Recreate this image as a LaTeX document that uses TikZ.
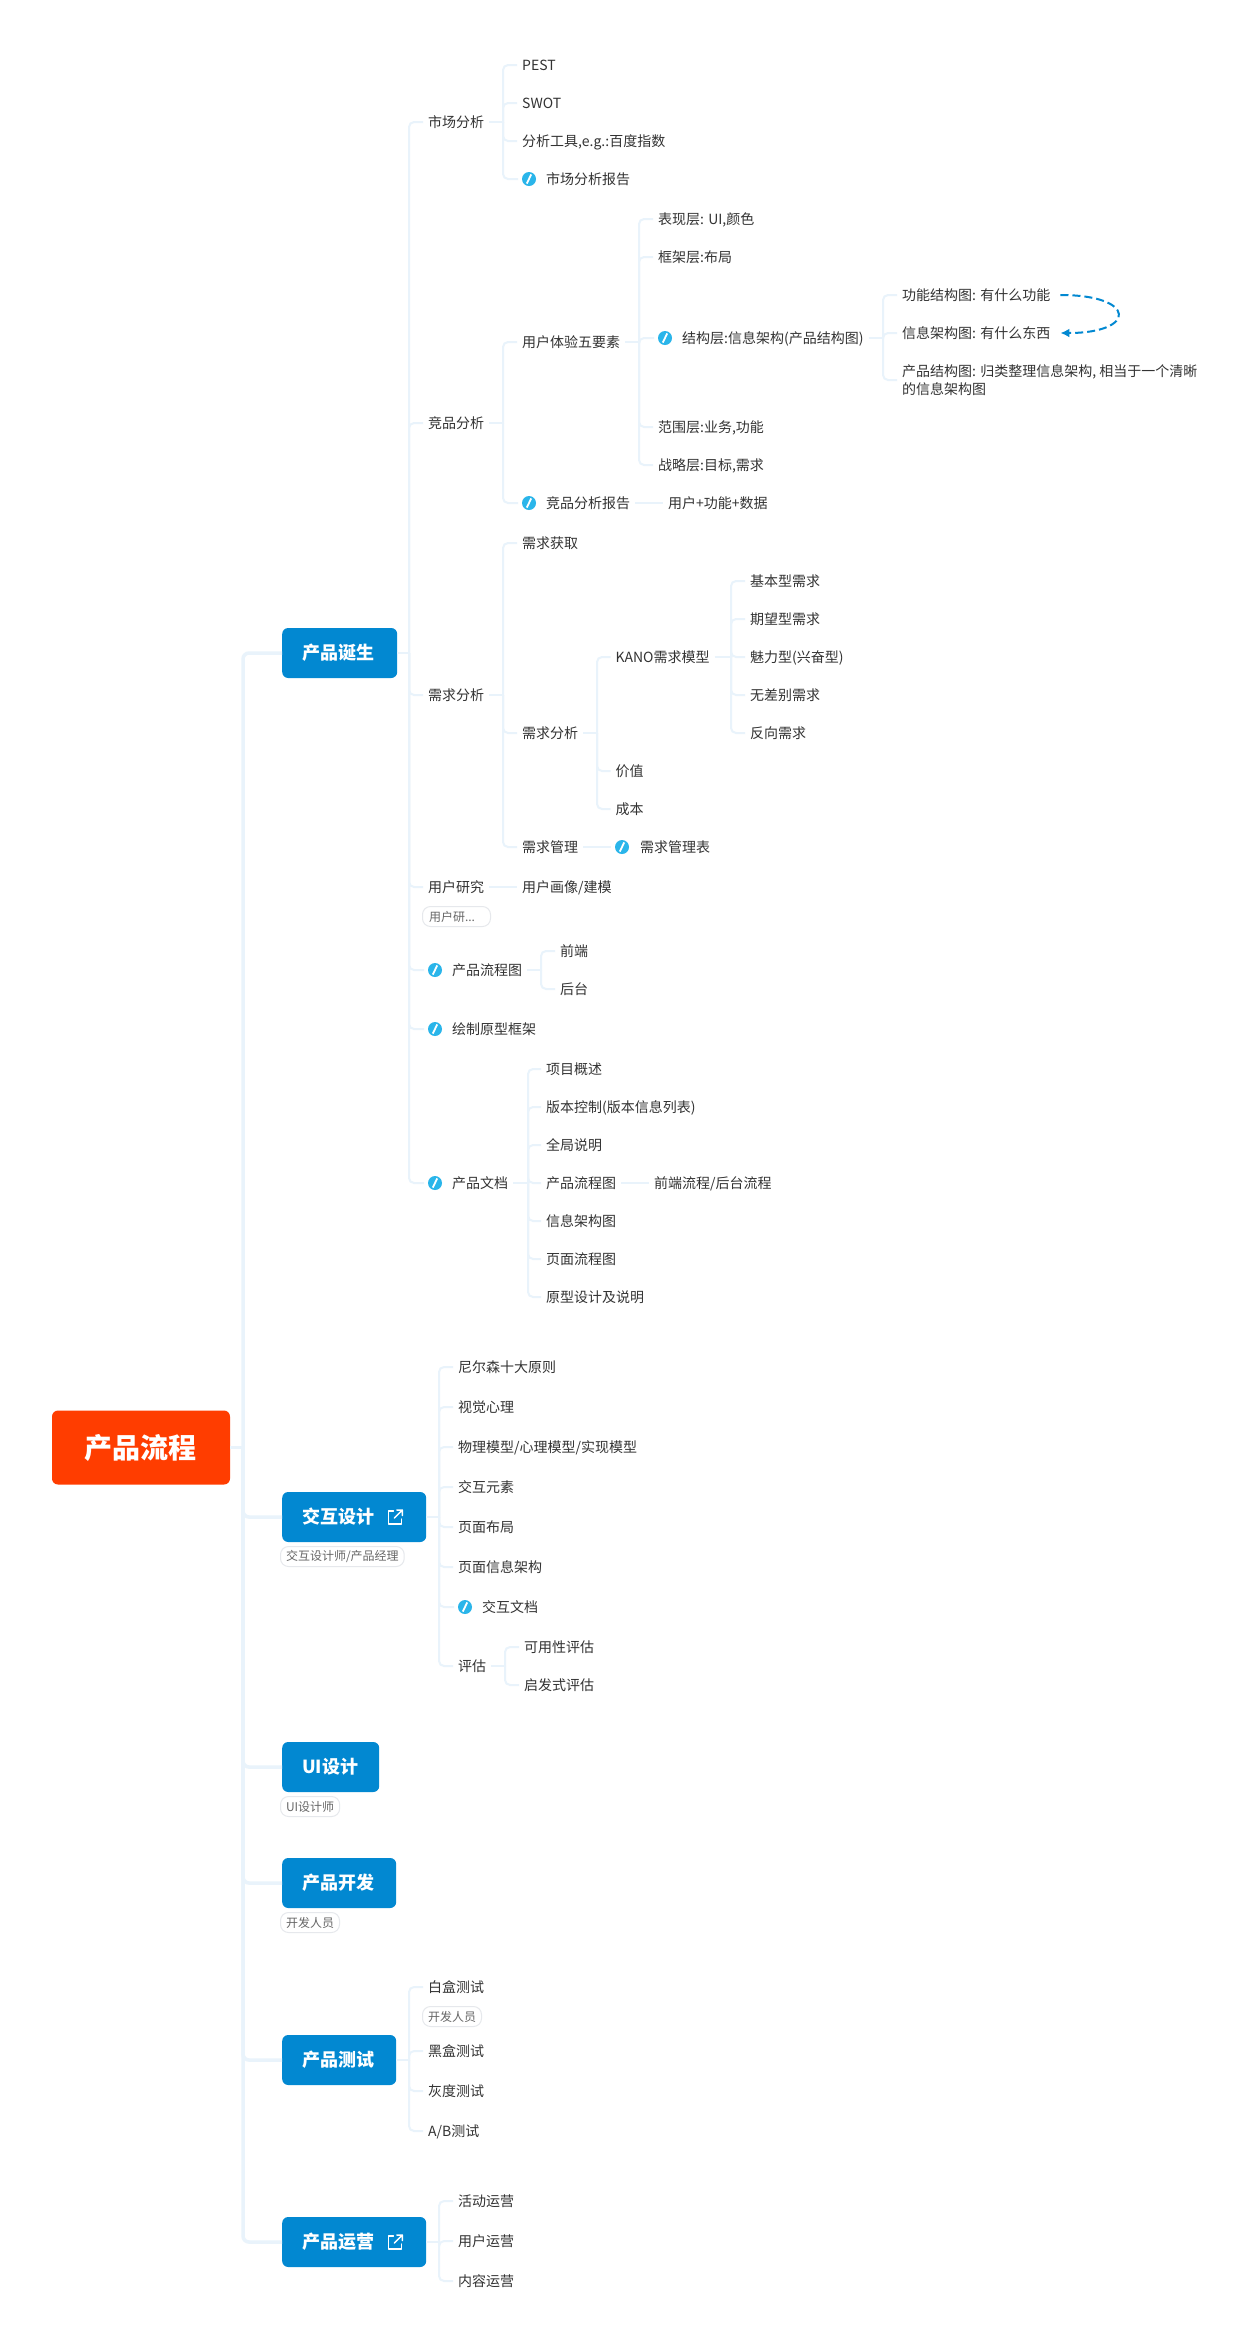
\documentclass[tikz,border=0pt]{standalone}
\usepackage{fontspec}
\setmainfont{Noto Sans CJK SC}
\usetikzlibrary{calc,arrows.meta}
\definecolor{linkc}{HTML}{E9F3FB}
\definecolor{boxc}{HTML}{0288D1}
\definecolor{rootc}{HTML}{FF3D00}
\definecolor{iconc}{HTML}{2AB5EA}
\definecolor{textc}{HTML}{333333}
\definecolor{tagline}{HTML}{E6E8EC}
\definecolor{tagtext}{HTML}{666666}
\tikzset{
  link/.style={draw=linkc,line width=2pt},
  mainlink/.style={draw=linkc,line width=3.5pt},
  txt/.style={font=\fontsize{14}{18}\selectfont,text=textc,anchor=west,xshift=-5pt,inner xsep=5pt,inner ysep=0pt},
  leaf/.style={txt,text height=12.5pt,text depth=1.5pt},
  noteicon/.style={circle,fill=iconc,minimum size=14pt,inner sep=0pt,outer sep=4pt,
    path picture={\draw[white,line width=1.8pt]
      ($(path picture bounding box.center)+(-2.2,4.6)$) -- ($(path picture bounding box.center)+(2.2,-4.6)$);}},
  bluebox/.style={fill=boxc,text=white,rounded corners=6pt,minimum height=50pt,inner xsep=20pt,inner ysep=0pt,anchor=west,
    font=\fontsize{18}{22}\selectfont\bfseries},
  rootbox/.style={fill=rootc,text=white,rounded corners=6pt,minimum width=178pt,minimum height=74pt,inner sep=0pt,
    font=\fontsize{28}{32}\selectfont\bfseries},
  tagbox/.style={draw=tagline,line width=1pt,fill=white,text=tagtext,rounded corners=8pt,minimum height=20pt,inner xsep=5.5pt,inner ysep=0pt,
    anchor=north west,font=\fontsize{12}{14}\selectfont},
  dashlink/.style={draw=boxc,line width=2pt,dash pattern=on 8pt off 4pt,-{Latex[length=9pt,width=9pt]}},
  extline/.style={draw=white,line width=1.5pt,line cap=round,line join=round},
}
\newcommand{\branch}[3]{%
  \draw[link] (#1.east) -- (#2,0 |- #1.east);
  \foreach \kid in {#3}{\draw[link,rounded corners=5pt] (#2,0 |- #1.east) |- (\kid.west);}
}
\newcommand{\mainbranch}[3]{%
  \draw[mainlink] (#1.east) -- (#2,0 |- #1.east);
  \foreach \kid in {#3}{\draw[mainlink,rounded corners=6pt] (#2,0 |- #1.east) |- (\kid.west);}
}
\newcommand{\extmark}[1]{%
  \begin{scope}[shift={(#1.east)}]
    \draw[extline] (-33,-6) -- (-38,-6) -- (-38,7) -- (-25,7) -- (-25,2);
    \draw[extline] (-32,1) -- (-24,-7) (-29.5,-7) -- (-24,-7) -- (-24,-1.5);
  \end{scope}}
\begin{document}
\begin{tikzpicture}[x=1pt,y=-1pt]
\useasboundingbox[fill=white] (0,0) rectangle (1254,2346);
% root and main topics
\node[rootbox] (root) at (141,1447.5) {产品流程\hspace*{2pt}};
\node[bluebox,minimum width=115pt] (birth) at (282,653) {产品诞生\hspace*{3pt}};
\node[bluebox,minimum width=144pt] (ixd) at (282,1517) {交互设计\hspace*{32pt}};
\node[bluebox,minimum width=96pt] (ui) at (282,1767) {UI设计\hspace*{1pt}};
\node[bluebox,minimum width=114pt] (dev) at (282,1883) {产品开发\hspace*{2pt}};
\node[bluebox,minimum width=114pt] (test) at (282,2060) {产品测试\hspace*{2pt}};
\node[bluebox,minimum width=144pt] (ops) at (282,2242) {产品运营\hspace*{32pt}};
\extmark{ixd}
\extmark{ops}
% tags
\node[tagbox] (tagixd) at (280,1546) {交互设计师/产品经理};
\node[tagbox] (tagui) at (280,1796) {UI设计师};
\node[tagbox] (tagdev) at (280,1912) {开发人员};
\node[tagbox] (tagwb) at (422,2006) {开发人员};
\node[tagbox,minimum width=68pt] (tagres) at (422,906) {用户研...\hspace*{9pt}};
% level 2 under birth
\node[leaf] (mkt) at (428,122) {市场分析};
\node[leaf] (comp) at (428,423) {竞品分析};
\node[leaf] (req) at (428,695) {需求分析};
\node[leaf] (res) at (428,887) {用户研究};
\node[noteicon] (iflow) at (435,970) {};
\node[leaf] (flow) at (452,970) {产品流程图};
\node[noteicon] (iproto) at (435,1029) {};
\node[leaf] (proto) at (452,1029) {绘制原型框架};
\node[noteicon] (idoc) at (435,1183) {};
\node[leaf] (doc) at (452,1183) {产品文档};
% market
\node[leaf] (pest) at (522,65) {PEST};
\node[leaf] (swot) at (522,103) {SWOT};
\node[leaf] (tool) at (522,141) {分析工具,e.g.:百度指数};
\node[noteicon] (imrep) at (529,179) {};
\node[leaf] (mrep) at (546,179) {市场分析报告};
% competition
\node[leaf] (ux) at (522,342) {用户体验五要素};
\node[noteicon] (icrep) at (529,503) {};
\node[leaf] (crep) at (546,503) {竞品分析报告};
\node[leaf] (cdata) at (668,503) {用户+功能+数据};
\node[leaf] (surf) at (658,219) {表现层: UI,颜色};
\node[leaf] (skel) at (658,257) {框架层:布局};
\node[noteicon] (istru) at (665,338) {};
\node[leaf] (stru) at (682,338) {结构层:信息架构(产品结构图)};
\node[leaf] (scop) at (658,427) {范围层:业务,功能};
\node[leaf] (stra) at (658,465) {战略层:目标,需求};
\node[leaf] (fnmap) at (902,295) {功能结构图: 有什么功能};
\node[leaf] (iamap) at (902,333) {信息架构图: 有什么东西};
\node[txt,align=left] (pdmap) at (902,380) {产品结构图: 归类整理信息架构, 相当于一个清晰\\的信息架构图};
% requirements
\node[leaf] (rget) at (522,543) {需求获取};
\node[leaf] (rana) at (522,733) {需求分析};
\node[leaf] (rman) at (522,847) {需求管理};
\node[noteicon] (irtab) at (622,847) {};
\node[leaf] (rtab) at (640,847) {需求管理表};
\node[leaf] (kano) at (615.5,657) {KANO需求模型};
\node[leaf] (val) at (615.5,771) {价值};
\node[leaf] (cost) at (615.5,809) {成本};
\node[leaf] (k1) at (750,581) {基本型需求};
\node[leaf] (k2) at (750,619) {期望型需求};
\node[leaf] (k3) at (750,657) {魅力型(兴奋型)};
\node[leaf] (k4) at (750,695) {无差别需求};
\node[leaf] (k5) at (750,733) {反向需求};
% research, flow
\node[leaf] (pers) at (522,887) {用户画像/建模};
\node[leaf] (fe) at (560,951) {前端};
\node[leaf] (be) at (560,989) {后台};
% document
\node[leaf] (d1) at (546,1069) {项目概述};
\node[leaf] (d2) at (546,1107) {版本控制(版本信息列表)};
\node[leaf] (d3) at (546,1145) {全局说明};
\node[leaf] (d4) at (546,1183) {产品流程图};
\node[leaf] (d5) at (546,1221) {信息架构图};
\node[leaf] (d6) at (546,1259) {页面流程图};
\node[leaf] (d7) at (546,1297) {原型设计及说明};
\node[leaf] (d4a) at (654,1183) {前端流程/后台流程};
% interaction
\node[leaf] (i1) at (458,1367) {尼尔森十大原则};
\node[leaf] (i2) at (458,1407) {视觉心理};
\node[leaf] (i3) at (458,1447) {物理模型/心理模型/实现模型};
\node[leaf] (i4) at (458,1487) {交互元素};
\node[leaf] (i5) at (458,1527) {页面布局};
\node[leaf] (i6) at (458,1567) {页面信息架构};
\node[noteicon] (ii7) at (465,1607) {};
\node[leaf] (i7) at (482,1607) {交互文档};
\node[leaf] (i8) at (458,1666) {评估};
\node[leaf] (e1) at (524,1647) {可用性评估};
\node[leaf] (e2) at (524,1685) {启发式评估};
% testing
\node[leaf] (t1) at (428,1987) {白盒测试};
\node[leaf] (t2) at (428,2051) {黑盒测试};
\node[leaf] (t3) at (428,2091) {灰度测试};
\node[leaf] (t4) at (428,2131) {A/B测试};
% operations
\node[leaf] (o1) at (458,2201) {活动运营};
\node[leaf] (o2) at (458,2241) {用户运营};
\node[leaf] (o3) at (458,2281) {内容运营};
% connectors
\mainbranch{root}{243}{birth,ixd,ui,dev,test,ops}
\branch{birth}{409}{mkt,comp,req,res,iflow,iproto,idoc}
\branch{mkt}{503}{pest,swot,tool,imrep}
\branch{comp}{503}{ux,icrep}
\branch{ux}{639}{surf,skel,istru,scop,stra}
\branch{stru}{883}{fnmap,iamap,pdmap}
\draw[link] (crep.east) -- (cdata.west);
\branch{req}{503}{rget,rana,rman}
\branch{rana}{597}{kano,val,cost}
\branch{kano}{731}{k1,k2,k3,k4,k5}
\draw[link] (rman.east) -- (irtab.west);
\draw[link] (res.east) -- (pers.west);
\branch{flow}{541}{fe,be}
\branch{doc}{528}{d1,d2,d3,d4,d5,d6,d7}
\draw[link] (d4.east) -- (d4a.west);
\branch{ixd}{439}{i1,i2,i3,i4,i5,i6,ii7,i8}
\branch{i8}{505}{e1,e2}
\branch{test}{409}{t1,t2,t3,t4}
\branch{ops}{439}{o1,o2,o3}
\draw[dashlink] ($(fnmap.east)+(5,0)$) .. controls (1137,295) and (1137,333) .. ($(iamap.east)+(5,0)$);
\end{tikzpicture}
\end{document}
